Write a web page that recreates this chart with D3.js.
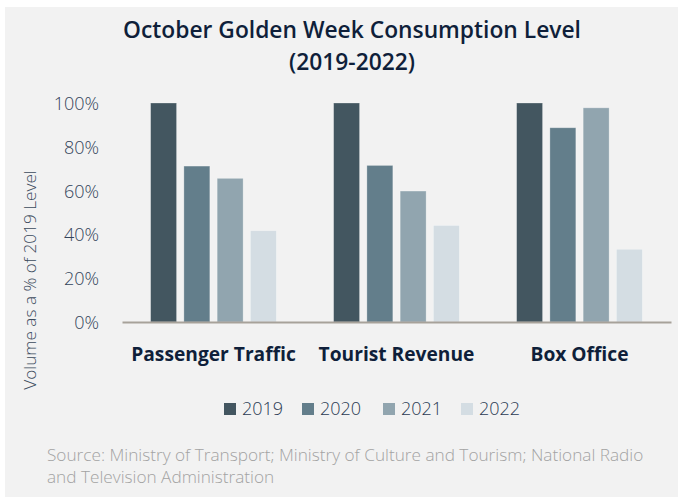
<!DOCTYPE html>
<html>
<head>
<meta charset="utf-8">
<script src="https://cdn.jsdelivr.net/npm/d3@7"></script>
<style>
  html, body { margin: 0; padding: 0; background: #ffffff; }
  svg { display: block; }
</style>
</head>
<body>
<svg id="chart" width="678" height="499"></svg>
<script>
// ---- Data ----
const categories = ["Passenger Traffic", "Tourist Revenue", "Box Office"];
const years = ["2019", "2020", "2021", "2022"];
const values2019 = [100, 100, 100];
const values2020 = [71.2, 71.5, 88.7];
const values2021 = [65.6, 59.8, 97.8];
const values2022 = [41.7, 44.1, 33.2];
const yTicks = [0, 20, 40, 60, 80, 100];
const colors = ["#435660", "#637e8b", "#91a5af", "#d4dde3"];
const titleLines = ["October Golden Week Consumption Level", "(2019-2022)"];
const yAxisTitle = "Volume as a % of 2019 Level";
const sourceLines = [
  "Source: Ministry of Transport; Ministry of Culture and Tourism; National Radio",
  "and Television Administration"
];

const seriesValues = [values2019, values2020, values2021, values2022];
const data = categories.map((c, i) => ({
  category: c,
  values: years.map((y, j) => ({ year: y, value: seriesValues[j][i] }))
}));

const svg = d3.select("#chart");
const font = "'Open Sans', 'Noto Sans', sans-serif";

// panel background
svg.append("rect").attr("x", 5).attr("y", 7).attr("width", 673).attr("height", 490).attr("fill", "#f2f2f2");

const plot = { left: 122, right: 671, top: 103, bottom: 322 };

const x0 = d3.scaleBand().domain(categories).range([plot.left, plot.right]).padding(0);
const x1 = d3.scaleBand().domain(years).range([0, x0.bandwidth()]).paddingInner(0.22).paddingOuter(0.86);
const y = d3.scaleLinear().domain([0, 100]).range([plot.bottom, plot.top]);
const color = d3.scaleOrdinal().domain(years).range(colors);

// title
svg.append("g").selectAll("text").data(titleLines).join("text")
  .attr("x", 352).attr("y", (d, i) => 38 + i * 32)
  .attr("text-anchor", "middle")
  .attr("font-family", font).attr("font-weight", 600).attr("font-size", 22.8)
  .attr("fill", "#0f1f3a")
  .text(d => d);

// y axis (labels only)
const yAxis = d3.axisLeft(y).tickValues(yTicks).tickFormat(d => d + "%").tickSize(0).tickPadding(0);
const yg = svg.append("g").attr("transform", `translate(99,0)`).call(yAxis);
yg.select(".domain").remove();
yg.selectAll("text")
  .attr("font-family", font).attr("font-weight", 300).attr("font-size", 18)
  .attr("fill", "#33445a").attr("dy", "0.36em");

// y axis title
svg.append("text")
  .attr("transform", `translate(36,280) rotate(-90)`)
  .attr("text-anchor", "middle")
  .attr("font-family", font).attr("font-weight", 300).attr("font-size", 17.2)
  .attr("fill", "#3b4a5c")
  .text(yAxisTitle);

// bars
const groups = svg.append("g").selectAll("g").data(data).join("g")
  .attr("transform", d => `translate(${x0(d.category)},0)`);
groups.selectAll("rect").data(d => d.values).join("rect")
  .attr("x", d => x1(d.year))
  .attr("y", d => y(d.value))
  .attr("width", x1.bandwidth())
  .attr("height", d => y(0) - y(d.value))
  .attr("fill", d => color(d.year))
  .attr("stroke", "#ffffff").attr("stroke-opacity", 0.35).attr("stroke-width", 0.8);

// x axis line
const xAxis = d3.axisBottom(x0).tickSize(0).tickPadding(0);
const xg = svg.append("g").attr("transform", `translate(0,${plot.bottom})`).call(xAxis);
xg.select(".domain").attr("stroke", "#a7a29a").attr("stroke-width", 2);
xg.selectAll("text")
  .attr("y", 38.5).attr("dy", 0)
  .attr("font-family", font).attr("font-weight", 700).attr("font-size", 19.2)
  .attr("fill", "#0f1f3a");

// legend
const legendX = [224, 302, 383, 461];
const legend = svg.append("g").selectAll("g").data(years).join("g")
  .attr("transform", (d, i) => `translate(${legendX[i]},403)`);
legend.append("rect").attr("width", 12).attr("height", 12).attr("fill", d => color(d));
legend.append("text")
  .attr("x", 18).attr("y", 6).attr("dy", "0.36em")
  .attr("font-family", font).attr("font-weight", 300).attr("font-size", 18)
  .attr("fill", "#2b3a52")
  .text(d => d);

// source
svg.append("g").selectAll("text").data(sourceLines).join("text")
  .attr("x", 47).attr("y", (d, i) => 461 + i * 22)
  .attr("font-family", font).attr("font-weight", 300).attr("font-size", 17.2)
  .attr("fill", "#a3a3a3")
  .text(d => d);
</script>
</body>
</html>
